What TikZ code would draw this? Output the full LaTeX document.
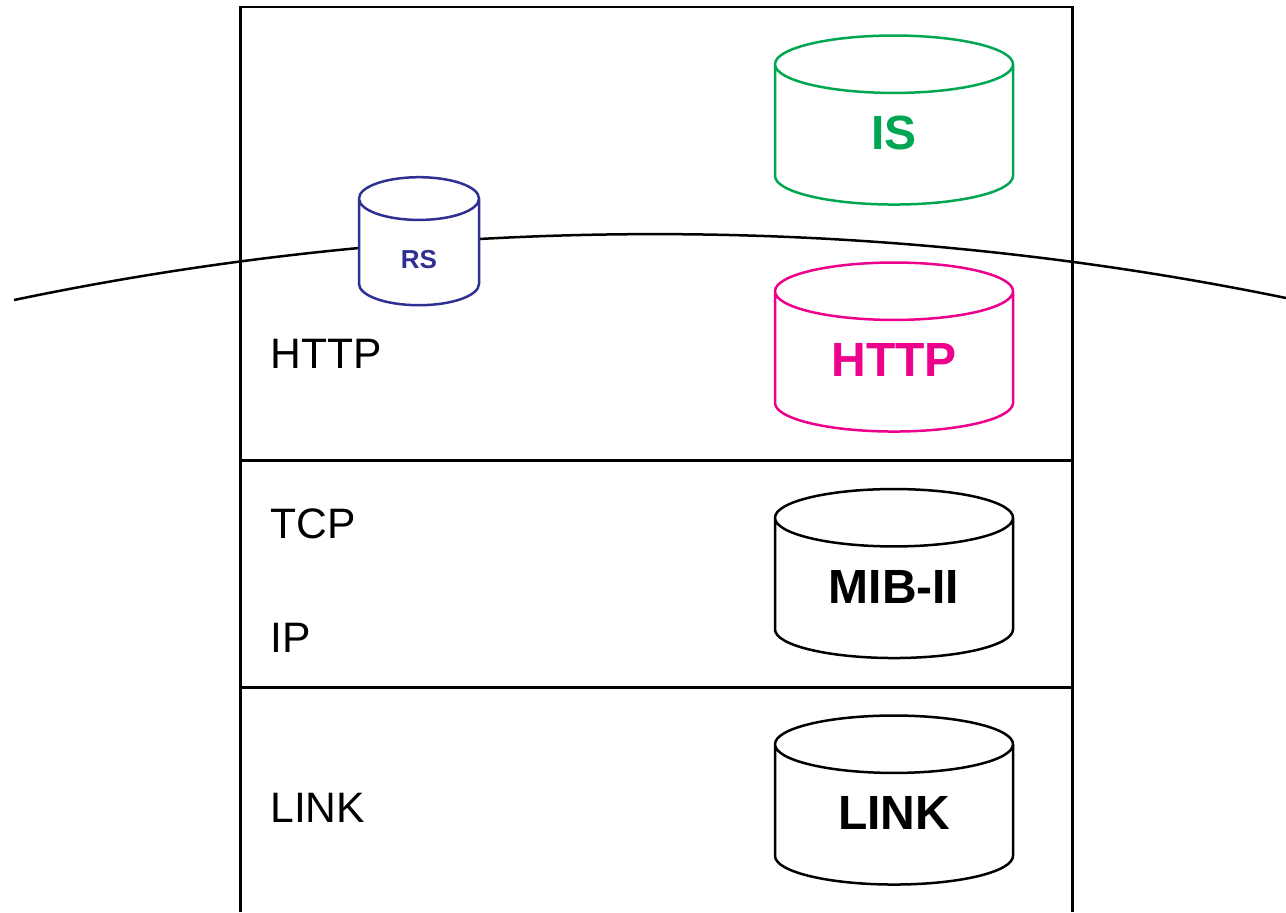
\documentclass[tikz,border=0pt]{standalone}
\usepackage{fontspec}
\setmainfont{Liberation Sans}
\usepackage[svgnames]{xcolor}
\usetikzlibrary{shapes.geometric}
\definecolor{isgreen}{HTML}{00A651}
\definecolor{httppink}{HTML}{EC008C}
\definecolor{rsblue}{HTML}{2E3192}

\begin{document}
\begin{tikzpicture}[x=0.5pt,y=-0.5pt,
		layertext/.style={anchor=base west, inner sep=0pt, font=\fontsize{21.3}{25}\selectfont},
		store/.style={cylinder, shape border rotate=90, aspect=0.41, draw, fill=white, line width=1.25pt, inner sep=0pt, outer sep=0pt, text width=70pt, align=center, text height=17pt, text depth=2.5pt, minimum width=119pt, minimum height=84.5pt, font=\fontsize{24}{28}\selectfont\bfseries}]
		\useasboundingbox (0,0) rectangle (1286,912);
		\path (240.5,912) coordinate(fl)
		(240.5,7) coordinate(tl)
		(1072.5,7) coordinate(tr)
		(1072.5,912) coordinate(fr)
		(240.5,460.5) coordinate(al)
		(1072.5,460.5) coordinate(ar)
		(240.5,687.5) coordinate(bl)
		(1072.5,687.5) coordinate(br)
		(14,300) coordinate(hl)
		(1286,298) coordinate(hr);
		\draw [line width=1.25pt, black] (fl)--(tl)--(tr)--(fr);
		\draw [line width=1.25pt, black] (al)--(ar);
		\draw [line width=1.25pt, black] (bl)--(br);
		\draw [line width=1.25pt, black, bend left=11.7, looseness=0.86] (hl) to (hr);
		\path (894,135) node(is)[store, draw=isgreen, text=isgreen]{IS}
		(894,362) node(http)[store, draw=httppink, text=httppink]{HTTP}
		(894,588.5) node(mib)[store]{MIB-II}
		(894,815) node(link)[store]{LINK}
		(419,252.5) node(rs)[store, draw=rsblue, text=rsblue, aspect=0.89, text width=24pt, text height=15.8pt, text depth=0pt, minimum width=60pt, minimum height=64pt, font=\fontsize{13}{15}\selectfont\bfseries]{RS};
		\path (270,368) node(lhttp)[layertext]{HTTP}
		(270,538) node(ltcp)[layertext]{TCP}
		(270,652) node(lip)[layertext]{IP}
		(270,822) node(llink)[layertext]{LINK};
	\end{tikzpicture}
\end{document}
